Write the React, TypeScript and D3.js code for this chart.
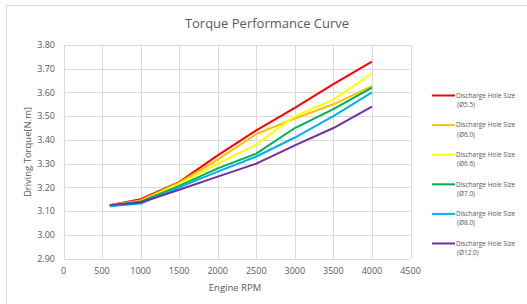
import React, { useRef, useEffect } from "react";
import * as d3 from "d3";

const rpm = [600, 1000, 1500, 2000, 2500, 3000, 3500, 4000];
const seriesNames = [
  "(Ø5.5)",
  "(Ø6.0)",
  "(Ø6.6)",
  "(Ø7.0)",
  "(Ø8.0)",
  "(Ø12.0)",
];
const hole55 = [3.125, 3.15, 3.222, 3.335, 3.44, 3.535, 3.635, 3.73];
const hole60 = [3.125, 3.145, 3.22, 3.317, 3.425, 3.49, 3.55, 3.626];
const hole66 = [3.125, 3.14, 3.215, 3.3, 3.38, 3.5, 3.57, 3.68];
const hole70 = [3.125, 3.14, 3.206, 3.28, 3.342, 3.45, 3.53, 3.62];
const hole80 = [3.12, 3.132, 3.2, 3.266, 3.33, 3.41, 3.5, 3.6];
const hole120 = [3.125, 3.136, 3.19, 3.245, 3.3, 3.377, 3.45, 3.54];
const colors = ["#ff0000", "#ffc000", "#ffff00", "#00b050", "#00b0f0", "#7030a0"];
const xTicks = [0, 500, 1000, 1500, 2000, 2500, 3000, 3500, 4000, 4500];
const yTicks = [2.9, 3.0, 3.1, 3.2, 3.3, 3.4, 3.5, 3.6, 3.7, 3.8];

function TorqueChart() {
  const svgRef = useRef<SVGSVGElement>(null);

  useEffect(() => {
    const svg = d3.select(svgRef.current);
    svg.selectAll("*").remove();
    const font = "'Open Sans', 'Noto Sans', sans-serif";
    const textColor = "#595959";
    const gridColor = "#d9d9d9";

    // chart frame
    svg.append("rect").attr("width", 527).attr("height", 304).attr("fill", "#fff");
    svg
      .append("rect")
      .attr("x", 6.5)
      .attr("y", 5.5)
      .attr("width", 530)
      .attr("height", 320)
      .attr("fill", "none")
      .attr("stroke", gridColor);

    const x = d3.scaleLinear().domain([0, 4500]).range([63.5, 410.5]);
    const y = d3.scaleLinear().domain([2.9, 3.8]).range([258.5, 45]);

    // grid
    svg
      .selectAll(".hgrid")
      .data(yTicks)
      .join("line")
      .attr("class", "hgrid")
      .attr("x1", x(0))
      .attr("x2", x(4500))
      .attr("y1", (d) => Math.round(y(d)) + 0.5)
      .attr("y2", (d) => Math.round(y(d)) + 0.5)
      .attr("stroke", gridColor);
    svg
      .selectAll(".vgrid")
      .data(xTicks)
      .join("line")
      .attr("class", "vgrid")
      .attr("x1", (d) => Math.round(x(d)) + 0.5)
      .attr("x2", (d) => Math.round(x(d)) + 0.5)
      .attr("y1", y(3.8))
      .attr("y2", y(2.9))
      .attr("stroke", gridColor);

    // tick labels
    svg
      .selectAll(".ylab")
      .data(yTicks)
      .join("text")
      .attr("class", "ylab")
      .attr("x", 55)
      .attr("y", (d) => y(d) + 3.2)
      .attr("text-anchor", "end")
      .attr("font-size", 9)
      .attr("font-family", font)
      .attr("fill", textColor)
      .text((d) => d.toFixed(2));
    svg
      .selectAll(".xlab")
      .data(xTicks)
      .join("text")
      .attr("class", "xlab")
      .attr("x", (d) => x(d))
      .attr("y", 274)
      .attr("text-anchor", "middle")
      .attr("font-size", 9)
      .attr("font-family", font)
      .attr("fill", textColor)
      .text((d) => String(d));

    // titles
    svg
      .append("text")
      .attr("x", 267)
      .attr("y", 28)
      .attr("text-anchor", "middle")
      .attr("font-size", 13)
      .attr("font-family", font)
      .attr("fill", textColor)
      .text("Torque Performance Curve");
    svg
      .append("text")
      .attr("x", 235)
      .attr("y", 291)
      .attr("text-anchor", "middle")
      .attr("font-size", 9.5)
      .attr("font-family", font)
      .attr("fill", textColor)
      .text("Engine RPM");
    svg
      .append("text")
      .attr("transform", "translate(31,152) rotate(-90)")
      .attr("text-anchor", "middle")
      .attr("font-size", 9.5)
      .attr("font-family", font)
      .attr("fill", textColor)
      .text("Driving Torque[N.m]");

    // lines
    const allSeries = [hole55, hole60, hole66, hole70, hole80, hole120];
    const line = d3
      .line<number>()
      .x((d, i) => x(rpm[i]))
      .y((d) => y(d));
    svg
      .selectAll(".series")
      .data(allSeries)
      .join("path")
      .attr("class", "series")
      .attr("d", (d) => line(d))
      .attr("fill", "none")
      .attr("stroke", (d, i) => colors[i])
      .attr("stroke-width", 2)
      .attr("stroke-linejoin", "round");

    // legend
    const legend = svg
      .selectAll(".legend")
      .data(seriesNames)
      .join("g")
      .attr("class", "legend")
      .attr("transform", (d, i) => `translate(432,${95.5 + i * 29.6})`);
    legend
      .append("line")
      .attr("x1", 0)
      .attr("x2", 23)
      .attr("stroke", (d, i) => colors[i])
      .attr("stroke-width", 2);
    legend
      .append("text")
      .attr("x", 24)
      .attr("y", 2.3)
      .attr("font-size", 6.5)
      .attr("font-family", font)
      .attr("fill", textColor)
      .text("Discharge Hole Size");
    legend
      .append("text")
      .attr("x", 25)
      .attr("y", 11.5)
      .attr("font-size", 6.5)
      .attr("font-family", font)
      .attr("fill", textColor)
      .text((d) => d);
  }, []);

  return <svg ref={svgRef} width={527} height={304} style={{ display: "block" }}></svg>;
}

export default function App() {
  return (
    <div style={{ position: "absolute", left: 0, top: 0 }}>
      <TorqueChart />
    </div>
  );
}
